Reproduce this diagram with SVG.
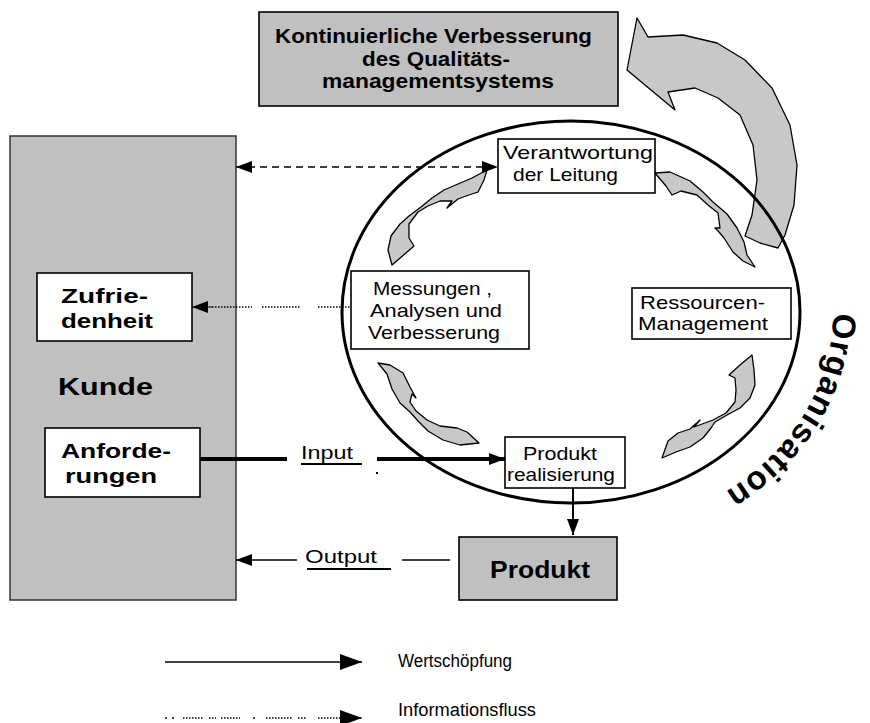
<svg xmlns="http://www.w3.org/2000/svg" width="870" height="723" viewBox="0 0 870 723">
<style>
text{font-family:"Liberation Sans",Arial,sans-serif;fill:#000}
.b{font-weight:bold}
.t20{font-size:20px}
.t19{font-size:19px}
.t18{font-size:18px}
.box{fill:#fff;stroke:#000;stroke-width:1.6}
.gbox{fill:#c0c0c0;stroke:#000;stroke-width:1.6}
.garrow{fill:#c8c8c8;stroke:#000;stroke-width:1.3;stroke-linejoin:round}
.ln{stroke:#000;fill:none}
.dot{stroke:#000;stroke-width:1.5;stroke-dasharray:1.5 1.5;fill:none}
</style>
<defs>
<marker id="ah" viewBox="0 0 16 12" refX="16" refY="6" markerWidth="16" markerHeight="12" markerUnits="userSpaceOnUse" orient="auto-start-reverse"><path d="M0,0 L16,6 L0,12 Z" fill="#000"/></marker>
<marker id="ahL" viewBox="0 0 22 16" refX="22" refY="8" markerWidth="22" markerHeight="16" markerUnits="userSpaceOnUse" orient="auto"><path d="M0,0 L22,8 L0,16 Z" fill="#000"/></marker>
<path id="orgPath" d="M 832,293 A 262 222 0 0 1 661,521"/>
</defs>

<g id="kvq">
<rect class="gbox" x="259" y="12" width="359" height="94"/>
<text class="b t20" x="275" y="43" textLength="317" lengthAdjust="spacingAndGlyphs">Kontinuierliche Verbesserung</text>
<text class="b t20" x="362" y="66" textLength="148" lengthAdjust="spacingAndGlyphs">des Qualitäts-</text>
<text class="b t20" x="322" y="88" textLength="232" lengthAdjust="spacingAndGlyphs">managementsystems</text>
</g>

<g id="verbesserungspfeil">
<path class="garrow" d="M 637,18 L 648,37 L 683,35 L 717,43 L 745,60 L 772,88 L 790,125 L 797,165 L 794,205 L 785,235 L 778,248 L 760,243 L 745,236 L 752,215 L 757,180 L 753,145 L 740,115 L 718,98 L 695,88 L 668,92 L 675,110 L 627,70 Z"/>
</g>

<g id="kunde">
<rect x="10" y="136" width="226" height="464" fill="#c0c0c0" stroke="#333" stroke-width="1.5"/>
<text class="b" x="58" y="395" font-size="23" textLength="95" lengthAdjust="spacingAndGlyphs">Kunde</text>
</g>

<g id="zufriedenheit">
<rect class="box" x="37" y="273" width="155" height="68"/>
<text class="b t20" x="61" y="303" textLength="87" lengthAdjust="spacingAndGlyphs">Zufrie-</text>
<text class="b t20" x="61" y="328" textLength="92" lengthAdjust="spacingAndGlyphs">denheit</text>
</g>

<g id="anforderungen">
<rect class="box" x="45" y="428" width="155" height="69"/>
<text class="b t20" x="61" y="458" textLength="110" lengthAdjust="spacingAndGlyphs">Anforde-</text>
<text class="b t20" x="65" y="483" textLength="92" lengthAdjust="spacingAndGlyphs">rungen</text>
</g>

<g id="organisation">
<ellipse cx="571" cy="312" rx="229" ry="191" fill="none" stroke="#000" stroke-width="3"/>
<text class="b" font-size="33"><textPath href="#orgPath" startOffset="20" textLength="218" lengthAdjust="spacing">Organisation</textPath></text>
</g>

<g id="kreislauf-pfeile">
<path class="garrow" d="M 392,265 L 388,250 L 391,236 L 400,224 L 409,216 L 421,207 L 432,198 L 444,190 L 458,184 L 472,178 L 487,170 L 484,180 L 478,192 L 466,196 L 458,199 L 447,208 L 452,201 L 440,201 L 428,206 L 418,212 L 409,224 L 409,238 L 414,246 Z"/>
<path class="garrow" d="M 655,173 L 670,172 L 690,181 L 703,192 L 713,202 L 727,214 L 737,228 L 744,242 L 747,255 L 755,267 L 743,261 L 733,252 L 724,238 L 719,232 L 715,228 L 720,228 L 718,213 L 708,205 L 697,195 L 681,191 L 672,195 L 666,186 Z"/>
<path class="garrow" d="M 752,355 L 754,370 L 755,385 L 750,398 L 740,408 L 727,415 L 715,422 L 711,428 L 703,438 L 690,447 L 676,452 L 662,458 L 668,441 L 678,433 L 690,429 L 700,420 L 694,427 L 713,420 L 726,413 L 735,402 L 736,390 L 735,378 L 729,375 L 740,365 Z"/>
<path class="garrow" d="M 378,363 L 390,365 L 403,373 L 410,387 L 416,398 L 412,394 L 410,402 L 416,411 L 427,420 L 440,426 L 457,428 L 467,432 L 479,443 L 460,445 L 443,440 L 428,431 L 418,421 L 410,412 L 400,403 L 392,389 L 387,374 Z"/>
</g>

<g id="verantwortung">
<rect class="box" x="498" y="139" width="157" height="54"/>
<text class="t19" x="503" y="159" textLength="150" lengthAdjust="spacingAndGlyphs">Verantwortung</text>
<text class="t19" x="513" y="181" textLength="105" lengthAdjust="spacingAndGlyphs">der Leitung</text>
</g>

<g id="messungen">
<rect class="box" x="351" y="271" width="178" height="78"/>
<text class="t19" x="373" y="295" textLength="119" lengthAdjust="spacingAndGlyphs">Messungen ,</text>
<text class="t19" x="370" y="317" textLength="132" lengthAdjust="spacingAndGlyphs">Analysen und</text>
<text class="t19" x="368" y="339" textLength="132" lengthAdjust="spacingAndGlyphs">Verbesserung</text>
</g>

<g id="ressourcen">
<rect class="box" x="632" y="288" width="159" height="51"/>
<text class="t19" x="640" y="309" textLength="125" lengthAdjust="spacingAndGlyphs">Ressourcen-</text>
<text class="t19" x="638" y="330" textLength="130" lengthAdjust="spacingAndGlyphs">Management</text>
</g>

<g id="produktrealisierung">
<rect class="box" x="505" y="437" width="120" height="51"/>
<text class="t19" x="523" y="460" textLength="74" lengthAdjust="spacingAndGlyphs">Produkt</text>
<text class="t19" x="507" y="481" textLength="108" lengthAdjust="spacingAndGlyphs">realisierung</text>
</g>

<g id="produkt">
<rect class="gbox" x="459" y="537" width="158" height="63"/>
<text class="b" font-size="23" x="490" y="578" textLength="100" lengthAdjust="spacingAndGlyphs">Produkt</text>
</g>

<g id="connectors">
<line class="ln" x1="236" y1="167" x2="498" y2="167" stroke-width="1.5" stroke-dasharray="7 5" marker-start="url(#ah)" marker-end="url(#ah)"/>
<line class="dot" x1="212" y1="307" x2="252" y2="307"/>
<line class="dot" x1="262" y1="307" x2="300" y2="307"/>
<line class="dot" x1="318" y1="307" x2="351" y2="307"/>
<path class="ln" d="M 212,307 L 192,307" stroke-width="1" marker-end="url(#ah)"/>
<line class="ln" x1="200" y1="459" x2="287" y2="459" stroke-width="4"/>
<line class="ln" x1="377" y1="459" x2="505" y2="459" stroke-width="4" marker-end="url(#ah)"/>
<rect x="376" y="472" width="2" height="2" fill="#000"/>
<line class="ln" x1="573" y1="488" x2="573" y2="535" stroke-width="2" marker-end="url(#ah)"/>
<line class="ln" x1="297" y1="560" x2="236" y2="560" stroke-width="1.5" marker-end="url(#ah)"/>
<line class="ln" x1="402" y1="560" x2="450" y2="560" stroke-width="1.5"/>
<text class="t19" x="301" y="459" textLength="52" lengthAdjust="spacingAndGlyphs">Input</text>
<line class="ln" x1="301" y1="464" x2="362" y2="464" stroke-width="2"/>
<text class="t19" x="305" y="563" textLength="72" lengthAdjust="spacingAndGlyphs">Output</text>
<line class="ln" x1="307" y1="569" x2="391" y2="569" stroke-width="2"/>
</g>

<g id="legende">
<line class="ln" x1="165" y1="662" x2="362" y2="662" stroke-width="1.5" marker-end="url(#ahL)"/>
<text class="t18" x="398" y="667" textLength="114" lengthAdjust="spacingAndGlyphs">Wertschöpfung</text>
<g stroke="#000" stroke-width="1.5" fill="none">
<line x1="165" y1="718" x2="167" y2="718"/>
<line x1="172" y1="718" x2="174" y2="718"/>
<line class="dot" x1="183" y1="718" x2="204" y2="718"/>
<line class="dot" x1="209" y1="718" x2="216" y2="718"/>
<line class="dot" x1="221" y1="718" x2="240" y2="718"/>
<line x1="253" y1="718" x2="255" y2="718"/>
<line class="dot" x1="266" y1="718" x2="292" y2="718"/>
<line class="dot" x1="298" y1="718" x2="306" y2="718"/>
</g>
<path class="ln" d="M 318,718 L 362,718" stroke-width="1.5" stroke-dasharray="1.5 1.5" marker-end="url(#ahL)"/>
<text class="t18" x="398" y="716" textLength="138" lengthAdjust="spacingAndGlyphs">Informationsfluss</text>
</g>
</svg>
